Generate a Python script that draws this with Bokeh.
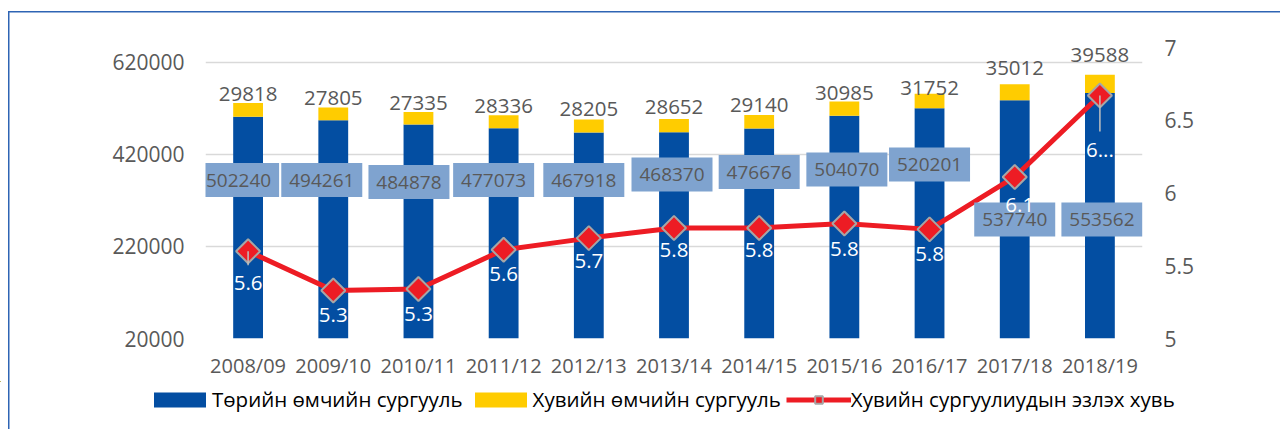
from bokeh.plotting import figure
from bokeh.models import (ColumnDataSource, Range1d, LinearAxis, FixedTicker,
                          NumeralTickFormatter, Legend, LegendItem)
from bokeh.embed import file_html
from bokeh.resources import INLINE
from bokeh.core.properties import value

# ---------------- data ----------------
years = ["2008/09", "2009/10", "2010/11", "2011/12", "2012/13", "2013/14",
         "2014/15", "2015/16", "2016/17", "2017/18", "2018/19"]
state = [502240, 494261, 484878, 477073, 467918, 468370, 476676, 504070, 520201, 537740, 553562]
private = [29818, 27805, 27335, 28336, 28205, 28652, 29140, 30985, 31752, 35012, 39588]
share = [5.60, 5.33, 5.34, 5.61, 5.69, 5.76, 5.76, 5.79, 5.75, 6.11, 6.67]
share_labels = ["5.6", "5.3", "5.3", "5.6", "5.7", "5.8", "5.8", "5.8", "5.8", "6.1", "6..."]
left_ticks = [20000, 220000, 420000, 620000]
right_ticks = [5, 5.5, 6, 6.5, 7]
legend_labels = ["Төрийн өмчийн сургууль", "Хувийн өмчийн сургууль",
                 "Хувийн сургуулиудын эзлэх хувь"]

# ---------------- label placement (styling only) ----------------
px_per_cat = 937 / 11.0
box_dx_px = [-9.5, -11.5, -9.5, -10, -5, -2, 0, 2.5, 0, 0, 2]
box_y = [364400, 364400, 360000, 364400, 364400, 376300, 381700, 387150, 398000, 278850, 278850]
top_off = [-1, -2, -2, -2, -3, -5, -2, -1, 2, -9, -12]   # digit bottom vs bar top, px
lbl_off = [32, 25, 25, 24, 23, 22, 22, 25, 25, 28, 54]
lbl_xoff = [0, 0, 0, 0, 0, 0, 0, 0, 0, 5, 0]

BLUE = "#034EA2"
YELLOW = "#FFCC00"
RED = "#ED1C24"
GRAY = "#595959"
FRAME_BLUE = "#2E64B4"
FONT = "Open Sans"

n = len(years)
xs = list(range(n))
src = ColumnDataSource(dict(
    x=xs,
    state=state,
    private=private,
    total=[s + q for s, q in zip(state, private)],
    share=share,
    share_lbl=share_labels,
    state_txt=[str(v) for v in state],
    priv_txt=[str(v) for v in private],
    bx=[i + d / px_per_cat for i, d in zip(xs, box_dx_px)],
    by=box_y,
    top_off=[o - 7.5 for o in top_off],
    lbl_off=lbl_off,
    lbl_xoff=lbl_xoff,
))

W = 1280
H_MAIN = 381
H_LEG = 48

p = figure(width=W, height=H_MAIN, x_range=Range1d(-0.5, 10.5),
           y_range=Range1d(20000, 652500), output_backend="svg",
           toolbar_location=None, min_border_left=205, min_border_right=138,
           min_border_top=47, min_border_bottom=H_MAIN - 339)
p.border_fill_color = None
p.background_fill_color = None
p.outline_line_color = None
p.styles = {
    "background-image": f"linear-gradient({FRAME_BLUE},{FRAME_BLUE}), linear-gradient({FRAME_BLUE},{FRAME_BLUE})",
    "background-size": "100% 1.5px, 1.5px 100%",
    "background-position": "8px 11px, 8px 11px",
    "background-repeat": "no-repeat",
}

p.extra_y_ranges = {"pct": Range1d(5, 7)}

# grid
p.xgrid.visible = False
p.ygrid.ticker = FixedTicker(ticks=left_ticks)
p.ygrid.grid_line_color = "#D9D9D9"
p.ygrid.grid_line_width = 1.5

# left axis
ya = p.yaxis[0]
ya.ticker = FixedTicker(ticks=left_ticks)
ya.formatter = NumeralTickFormatter(format="0")
ya.axis_line_color = None
ya.major_tick_line_color = None
ya.minor_tick_line_color = None
ya.major_label_text_font = FONT
ya.major_label_text_font_size = "21px"
ya.major_label_text_color = GRAY
ya.major_label_standoff = 15

# bottom axis
xa = p.xaxis[0]
xa.ticker = FixedTicker(ticks=xs)
xa.major_label_overrides = {i: y for i, y in zip(xs, years)}
xa.axis_line_color = None
xa.major_tick_line_color = None
xa.minor_tick_line_color = None
xa.major_label_text_font = FONT
xa.major_label_text_font_size = "20px"
xa.major_label_text_color = GRAY
xa.major_label_standoff = 7

# right axis
ra = LinearAxis(y_range_name="pct", ticker=FixedTicker(ticks=right_ticks))
ra.major_label_overrides = {5: "5", 5.5: "5.5", 6: "6", 6.5: "6.5", 7: "7"}
ra.axis_line_color = None
ra.major_tick_line_color = None
ra.minor_tick_line_color = None
ra.major_label_text_font = FONT
ra.major_label_text_font_size = "21px"
ra.major_label_text_color = GRAY
ra.major_label_standoff = 16
p.add_layout(ra, "right")

# bars
bar_kw = dict(x="x", width=0.35, source=src, line_color=None)
p.vbar(bottom=0, top="state", fill_color=BLUE, **bar_kw)
p.vbar(bottom="state", top="total", fill_color=YELLOW, **bar_kw)

# line + markers
line_kw = dict(line_color=RED, line_width=5)
mark_kw = dict(marker="square", size=17, angle=0.785398, fill_color=RED,
               line_color="#A6A6A6", line_width=2)
p.line("x", "share", source=src, y_range_name="pct", **line_kw)
p.scatter("x", "share", source=src, y_range_name="pct", **mark_kw)

# leader lines for moved labels
lead_idx = [0, 10]
lead_px = [14, 36]
lead_src = ColumnDataSource(dict(
    x=[xs[i] for i in lead_idx],
    y0=[share[i] for i in lead_idx],
    y1=[share[i] - d * 2.0 / 292 for i, d in zip(lead_idx, lead_px)],
))
p.segment(x0="x", y0="y0", x1="x", y1="y1", source=lead_src, y_range_name="pct",
          line_color="#BFBFBF", line_width=1.5)

# value boxes for state schools
p.rect(x="bx", y="by", width=81, height=34, width_units="screen",
       height_units="screen", fill_color="#7FA3CF", line_color=None, source=src)
p.text(x="bx", y="by", text="state_txt", source=src, text_align="center",
       text_baseline="middle", text_font=value(FONT), text_font_size="19px",
       text_color=GRAY)

# private labels on top
p.text(x="x", y="total", text="priv_txt", source=src, y_offset="top_off",
       text_align="center", text_baseline="middle", text_font=value(FONT),
       text_font_size="20.5px", text_color=GRAY)

# share labels
p.text(x="x", y="share", text="share_lbl", source=src, y_range_name="pct",
       y_offset="lbl_off", x_offset="lbl_xoff", text_align="center",
       text_baseline="middle", text_font=value(FONT), text_font_size="20.5px",
       text_color="#FFFFFF")

# ---------------- legend strip (same series, drawn out of view) ----------------
lf = figure(width=W, height=H_LEG, x_range=Range1d(1000, 1001),
            y_range=Range1d(-3e6, -2e6), output_backend="svg", toolbar_location=None,
            x_axis_location=None, y_axis_location=None, min_border=0)
lf.border_fill_color = None
lf.background_fill_color = None
lf.outline_line_color = None
lf.grid.visible = False
lf.styles = {
    "background-image": f"linear-gradient({FRAME_BLUE},{FRAME_BLUE})",
    "background-size": "1.5px 100%",
    "background-position": "8px 0px",
    "background-repeat": "no-repeat",
}
l_state = lf.vbar(bottom=0, top="state", fill_color=BLUE, **bar_kw)
l_priv = lf.vbar(bottom="state", top="total", fill_color=YELLOW, **bar_kw)
l_line = lf.line("x", "share", source=src, **line_kw)
l_mark = lf.scatter("x", "share", source=src, **mark_kw)

legend = Legend(items=[
    LegendItem(label=legend_labels[0], renderers=[l_state]),
    LegendItem(label=legend_labels[1], renderers=[l_priv]),
    LegendItem(label=legend_labels[2], renderers=[l_line, l_mark]),
], orientation="horizontal", location=(147, 16))
legend.label_text_font = FONT
legend.label_text_font_size = "20.5px"
legend.label_text_color = "#000000"
legend.glyph_width = 65
legend.glyph_height = 19
legend.label_standoff = 0
legend.spacing = 5
legend.padding = 0
legend.margin = 0
legend.border_line_color = None
legend.background_fill_alpha = 0
lf.add_layout(legend, "center")

open("out.html", "w").write(file_html([p, lf], INLINE))
